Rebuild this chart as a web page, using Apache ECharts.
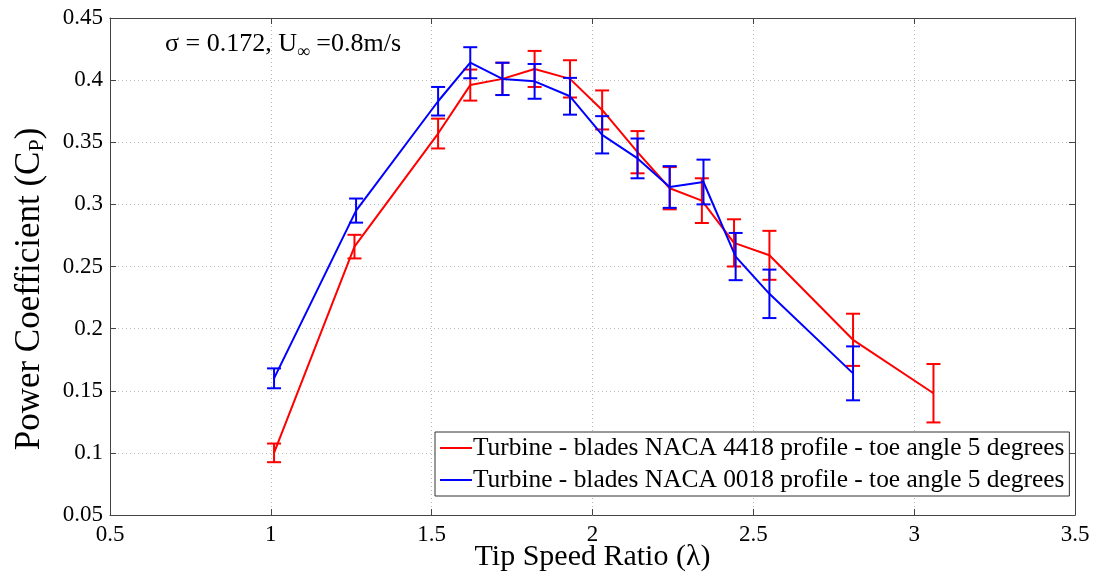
<!DOCTYPE html>
<html>
<head>
<meta charset="utf-8">
<script src="https://cdn.jsdelivr.net/npm/echarts@6/dist/echarts.min.js"></script>
<style>html,body{margin:0;padding:0;background:#fff}#c{width:1096px;height:578px}</style>
</head>
<body>
<div id="c"></div>
<script>
// ---- data ----
var redLambda = [1.01, 1.26, 1.52, 1.62, 1.72, 1.82, 1.93, 2.03, 2.14, 2.24, 2.34, 2.44, 2.55, 2.81, 3.06];
var redCp     = [0.100, 0.266, 0.357, 0.396, 0.401, 0.409, 0.401, 0.376, 0.342, 0.313, 0.303, 0.269, 0.259, 0.191, 0.148];
var redErr    = [0.0075, 0.0095, 0.012, 0.0125, 0.013, 0.0145, 0.015, 0.0157, 0.017, 0.017, 0.018, 0.019, 0.0197, 0.021, 0.0235];

var blueLambda = [1.01, 1.265, 1.52, 1.62, 1.72, 1.82, 1.93, 2.03, 2.14, 2.24, 2.345, 2.445, 2.55, 2.81];
var blueCp     = [0.160, 0.295, 0.383, 0.414, 0.401, 0.399, 0.387, 0.356, 0.337, 0.314, 0.318, 0.258, 0.228, 0.164];
var blueErr    = [0.008, 0.0097, 0.0115, 0.0125, 0.013, 0.014, 0.0148, 0.015, 0.016, 0.0168, 0.018, 0.019, 0.0195, 0.0217];

var redName  = 'Turbine - blades NACA 4418 profile - toe angle 5 degrees';
var blueName = 'Turbine - blades NACA 0018 profile - toe angle 5 degrees';

var xTicks = [0.5, 1, 1.5, 2, 2.5, 3, 3.5];
var yTicks = [0.05, 0.1, 0.15, 0.2, 0.25, 0.3, 0.35, 0.4, 0.45];

// ---- chart ----
var FONT = '"Liberation Serif", "Times New Roman", serif';
function pts(xs, ys){ return xs.map(function(x,i){ return [x, ys[i]]; }); }
function errs(xs, ys, es){ return xs.map(function(x,i){ return [x, ys[i]-es[i], ys[i]+es[i]]; }); }
function errRender(color){
  return function(params, api){
    var x = api.value(0);
    var lo = api.coord([x, api.value(1)]);
    var hi = api.coord([x, api.value(2)]);
    var hw = 7;
    var st = {stroke: color, lineWidth: 2};
    return {type:'group', children:[
      {type:'line', shape:{x1:lo[0], y1:lo[1], x2:hi[0], y2:hi[1]}, style:st},
      {type:'line', shape:{x1:lo[0]-hw, y1:lo[1], x2:lo[0]+hw, y2:lo[1]}, style:st},
      {type:'line', shape:{x1:hi[0]-hw, y1:hi[1], x2:hi[0]+hw, y2:hi[1]}, style:st}
    ]};
  };
}

var chart = echarts.init(document.getElementById('c'), null, {renderer:'canvas'});
var gridTop = 18, gridLeft = 110, gridRight = 21, gridBottom = 63;
var xMin = xTicks[0], xMax = xTicks[xTicks.length-1];
var yMin = yTicks[0], yMax = yTicks[yTicks.length-1];
var axisCommon = {
  axisLine:{show:true, onZero:false, lineStyle:{color:'#444', width:1}},
  axisTick:{show:true, inside:true, length:6, lineStyle:{color:'#444'}},
  splitLine:{show:false}
};
var option = {
  animation:false,
  backgroundColor:'#fff',
  grid:{left:gridLeft, right:gridRight, top:gridTop, bottom:gridBottom, containLabel:false, outerBoundsMode:'none'},
  xAxis:[
    Object.assign({}, axisCommon, {
      type:'value', min:xMin, max:xMax, interval:0.5, position:'bottom',
      axisLabel:{color:'#000', fontFamily:FONT, fontSize:23, margin:8},
      splitLine:{show:true, lineStyle:{color:'#bbb', type:[1,3], width:1}},
      name:'Tip Speed Ratio (λ)', nameLocation:'middle', nameGap:27, nameMoveOverlap:false,
      nameTextStyle:{color:'#000', fontFamily:FONT, fontSize:30}
    }),
    Object.assign({}, axisCommon, {
      type:'value', min:xMin, max:xMax, interval:0.5, position:'top',
      axisLabel:{show:false}
    })
  ],
  yAxis:[
    Object.assign({}, axisCommon, {
      type:'value', min:yMin, max:yMax, interval:0.05, position:'left',
      axisLabel:{color:'#000', fontFamily:FONT, fontSize:23, margin:7},
      splitLine:{show:true, lineStyle:{color:'#bbb', type:[1,3], width:1}}
    }),
    Object.assign({}, axisCommon, {
      type:'value', min:yMin, max:yMax, interval:0.05, position:'right',
      axisLabel:{show:false}
    })
  ],
  legend:{
    show:true, orient:'vertical', left:435, top:432,
    backgroundColor:'#fff', borderColor:'#333', borderWidth:1,
    padding:[3,5,3,5], itemGap:6, itemWidth:32, itemHeight:2,
    icon:'rect',
    textStyle:{color:'#000', fontFamily:FONT, fontSize:25.4, padding:[0,0,0,-4], lineHeight:26},
    data:[{name:redName}, {name:blueName}]
  },
  graphic:[{
    type:'text', left:165, top:31, z:100,
    style:{
      text:'{n|σ = 0.172, U}{s|∞}{n| =0.8m/s}',
      rich:{n:{fontFamily:FONT, fontSize:26, fill:'#000'},
            s:{fontFamily:FONT, fontSize:18, fill:'#000', padding:[16,0,0,0]}}
    }
  },{
    type:'text', x:30, y:289, rotation:Math.PI/2, z:100,
    style:{
      text:'{n|Power Coefficient (C}{s|P}{n|)}',
      align:'center', verticalAlign:'middle',
      rich:{n:{fontFamily:FONT, fontSize:35, fill:'#000'},
            s:{fontFamily:FONT, fontSize:22, fill:'#000', padding:[15,0,0,0]}}
    }
  }],
  series:[
    {name:redName, type:'line', data:pts(redLambda, redCp), showSymbol:false, symbol:'none',
     lineStyle:{color:'#ff0000', width:2}, itemStyle:{color:'#ff0000'}, z:3},
    {name:redName+'_err', type:'custom', data:errs(redLambda, redCp, redErr),
     renderItem:errRender('#ff0000'), encode:{x:0, y:[1,2]}, z:3},
    {name:blueName, type:'line', data:pts(blueLambda, blueCp), showSymbol:false, symbol:'none',
     lineStyle:{color:'#0000ff', width:2}, itemStyle:{color:'#0000ff'}, z:4},
    {name:blueName+'_err', type:'custom', data:errs(blueLambda, blueCp, blueErr),
     renderItem:errRender('#0000ff'), encode:{x:0, y:[1,2]}, z:4}
  ]
};
chart.setOption(option);
</script>
</body>
</html>
